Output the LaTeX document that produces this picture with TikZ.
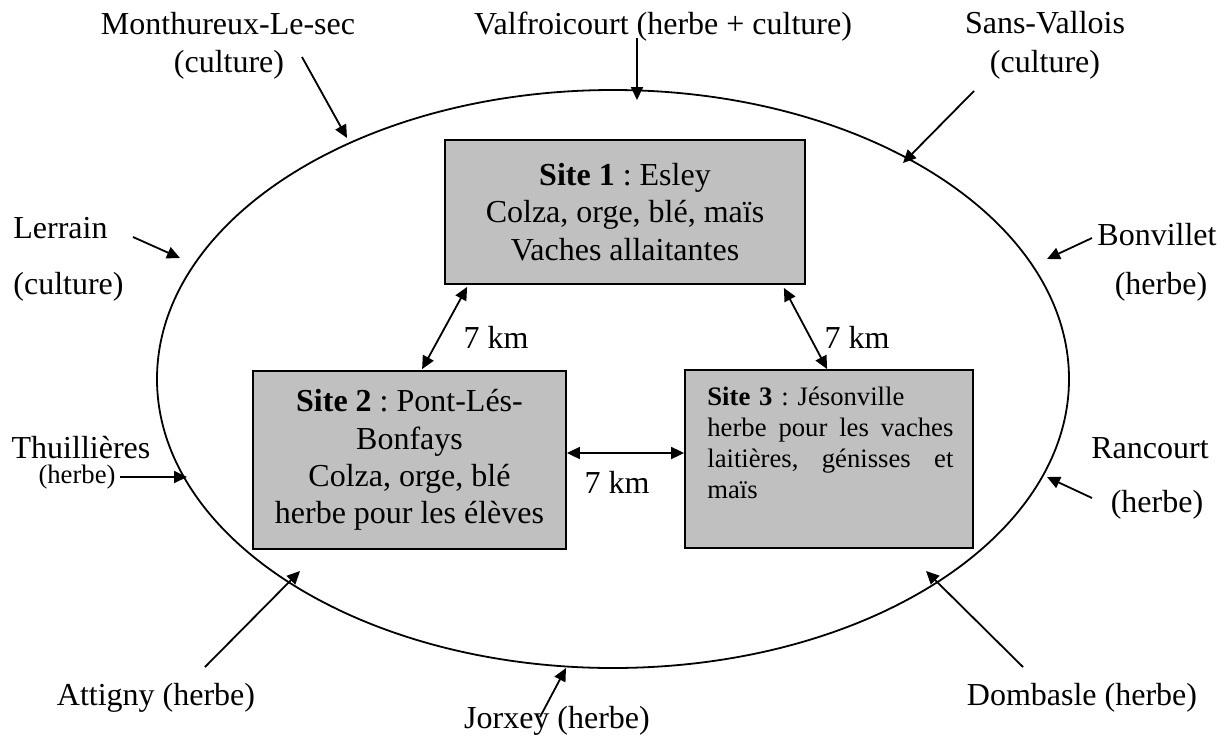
\documentclass[tikz,border=0pt]{standalone}
\usepackage{fontspec}
\setmainfont{Liberation Serif}
\usetikzlibrary{arrows.meta,calc}
\definecolor{boxgray}{RGB}{192,192,192}
\frenchspacing
\begin{document}
\begin{tikzpicture}[x=0.5pt,y=-0.5pt,
  lbl/.style={font=\fontsize{16}{18.7}\selectfont\frenchspacing, inner sep=0pt, anchor=base},
  lbls/.style={font=\fontsize{13.33}{15.5}\selectfont\frenchspacing, inner sep=0pt, anchor=base},
  sitebox/.style={draw=black, line width=0.9pt, fill=boxgray, inner sep=0pt,
    font=\fontsize{16}{18.7}\selectfont\frenchspacing, align=center},
  arr/.style={line width=0.9pt, -{Triangle[length=6.5pt,width=6pt]}},
  darr/.style={line width=0.9pt, {Triangle[length=6.5pt,width=6pt]}-{Triangle[length=6.5pt,width=6pt]}}]
\useasboundingbox (0,0) rectangle (1232,740);
% zone
\draw[line width=0.9pt] (613,379) ellipse [x radius=228pt, y radius=144.5pt];
% sites
\node[sitebox, minimum width=180pt, minimum height=72pt] (s1) at (625,212)
  {\textbf{Site 1} : Esley\\Colza, orge, blé, maïs\\Vaches allaitantes};
\node[sitebox, minimum width=156.5pt, minimum height=89pt] (s2) at (409.5,460)
  {\textbf{Site 2} : Pont-Lés-\\Bonfays\\Colza, orge, blé\\herbe pour les élèves};
\node[sitebox, minimum width=144pt, minimum height=89pt] (s3) at (829,459) {};
\node[font=\fontsize{13.33}{15.5}\selectfont\frenchspacing, inner sep=0pt, anchor=north west,
  text width=123pt, align=left] (s3t) at (707,387)
  {\textbf{Site 3} : Jésonville\\
   \makebox[123pt][l]{herbe\hfill pour\hfill les\hfill vaches}\\
   \makebox[123pt][l]{laitières,\hfill génisses\hfill et}\\
   maïs};
% distances
\draw[darr] ($(s1.south west)+(23,2)$) -- ($(s2.north west)+(170,-1)$);
\draw[darr] ($(s1.south east)+(-22,3)$) -- ($(s3.north west)+(143,0)$);
\draw[darr] ($(s2.east)+(0,-7)$) -- ($(s3.west)+(0,-6)$);
\node[lbl] (d12) at (496,348) {7 km};
\node[lbl] (d13) at (857,348) {7 km};
\node[lbl] (d23) at (617,493) {7 km};
% villages
\node[lbl] (mon1) at (228,34) {Monthureux-Le-sec};
\node[lbl] (mon2) at (229,72) {(culture)};
\node[lbl] (val) at (663,34) {Valfroicourt (herbe + culture)};
\node[lbl] (san1) at (1045,33) {Sans-Vallois};
\node[lbl] (san2) at (1045,72) {(culture)};
\node[lbl, anchor=base west] (ler1) at (13,238) {Lerrain};
\node[lbl, anchor=base west] (ler2) at (13,294) {(culture)};
\node[lbl] (bon1) at (1157,245) {Bonvillet};
\node[lbl] (bon2) at (1161,294) {(herbe)};
\node[lbl] (thu1) at (81,458) {Thuillières};
\node[lbls] (thu2) at (77,483) {(herbe)};
\node[lbl] (ran1) at (1150,458) {Rancourt};
\node[lbl] (ran2) at (1157,512) {(herbe)};
\node[lbl] (att) at (156,705) {Attigny (herbe)};
\node[lbl] (jor) at (557,728) {Jorxey (herbe)};
\node[lbl] (dom) at (1082,705) {Dombasle (herbe)};
% arrow end points
\coordinate (monA) at (302,57);   \coordinate (monB) at (347,138);
\coordinate (valA) at (637,38);   \coordinate (valB) at (637,100);
\coordinate (sanA) at (974,91);   \coordinate (sanB) at (903,163);
\coordinate (lerA) at (133,237);  \coordinate (lerB) at (180,258);
\coordinate (bonA) at (1092,238); \coordinate (bonB) at (1047,259);
\coordinate (thuA) at (120,477);  \coordinate (thuB) at (187,477);
\coordinate (ranA) at (1092,498); \coordinate (ranB) at (1047,477);
\coordinate (attA) at (205,667);  \coordinate (attB) at (300,571);
\coordinate (jorA) at (540,717);  \coordinate (jorB) at (566,668);
\coordinate (domA) at (1023,667); \coordinate (domB) at (926,571);
\foreach \v in {mon,val,san,ler,bon,thu,ran,att,jor,dom}
  \draw[arr] (\v A) -- (\v B);
\end{tikzpicture}
\end{document}
